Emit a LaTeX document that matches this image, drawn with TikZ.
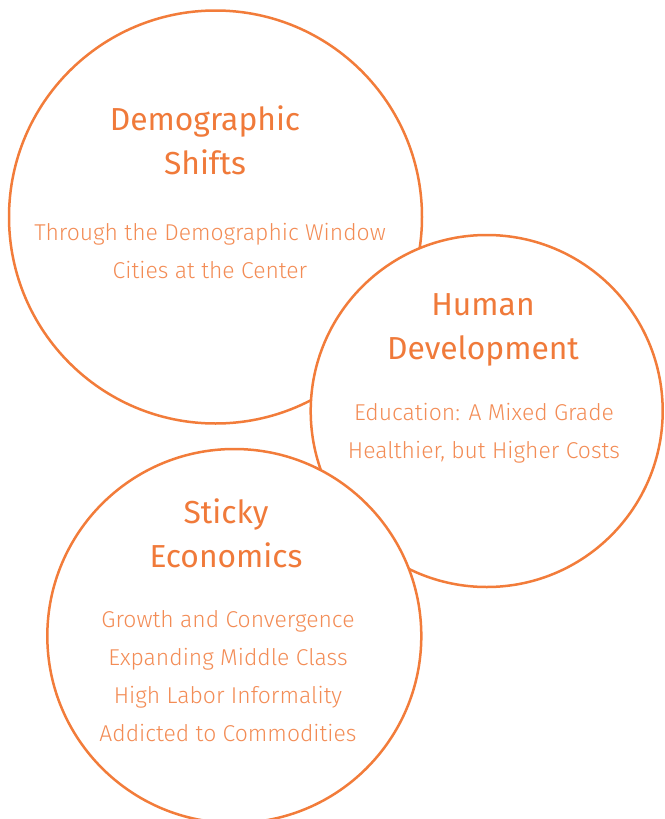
\documentclass[tikz,border=0pt]{standalone}
\usepackage{fontspec}
\setmainfont{Fira Sans}
\newfontfamily\lightfont{Fira Sans Light}
\definecolor{ring}{RGB}{242,124,58}
\definecolor{titlec}{RGB}{240,122,58}
\definecolor{subc}{RGB}{243,140,85}
\begin{document}
\begin{tikzpicture}[x=1pt,y=-1pt,
  ring/.style={draw=ring,fill=white,line width=2.5pt},
  ttl/.style={text=titlec,align=center,font=\fontsize{31.8}{44}\selectfont,inner sep=0pt},
  sub/.style={text=subc,align=center,font=\lightfont\fontsize{22.9}{38}\selectfont,inner sep=0pt}]
\useasboundingbox (0,0) rectangle (664,819);
\begin{scope}
\clip (0,0) rectangle (664,819);
\path[ring] (215.5,217) circle (206.5);
\path[ring] (486.7,411) circle (176);
\path[ring] (234.3,636) circle (187);
\end{scope}
\node[ttl] (t1) at (205,140) {Demographic\\Shifts};
\node[sub] (s1) at (210,251) {Through the Demographic Window\\Cities at the Center};
\node[ttl] (t2) at (483,329.5) {Human\\Development};
\node[sub] (s2) at (484,433) {Education: A Mixed Grade\\Healthier, but Higher Costs};
\node[ttl] (t3) at (226,533) {Sticky\\Economics};
\node[sub] (s3) at (228,676) {Growth and Convergence\\Expanding Middle Class\\High Labor Informality\\Addicted to Commodities};
\end{tikzpicture}
\end{document}
